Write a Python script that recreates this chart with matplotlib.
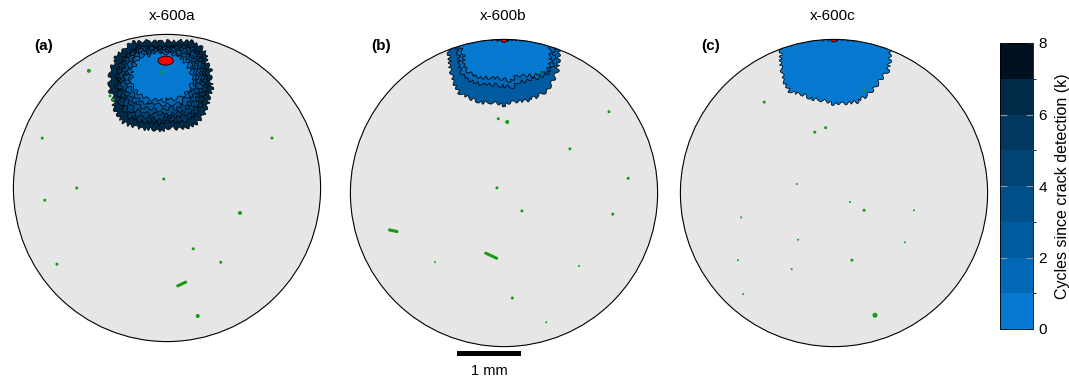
import numpy as np
import matplotlib
matplotlib.use('Agg')
import matplotlib.pyplot as plt
from matplotlib.colors import ListedColormap, BoundaryNorm
from matplotlib.patches import Circle, Polygon, Ellipse, Rectangle
import matplotlib.cm as cm

plt.rcParams['font.family'] = ['Liberation Sans', 'DejaVu Sans']

# specimen radius (mm)
radio = 2.4
titulos = ['x-600a', 'x-600b', 'x-600c']
etiquetas = ['(a)', '(b)', '(c)']

# bins of cycles since crack detection (k)
limites_ciclos = [0, 1, 2, 3, 4, 5, 6, 7, 8]
colores_ciclos = ['#0479cf', '#0068b5', '#005aa0', '#004f88',
                  '#004476', '#00385f', '#002a48', '#00101f']
ticks_barra = [0, 2, 4, 6, 8]

# x-600a: crack fronts, radius (mm) every 10 deg around the crack centre
centro_frentes_a = (-0.11, 1.69)
angulos_a = list(range(0, 360, 10))
frentes_a = [
    [0.50, 0.51, 0.49, 0.48, 0.47, 0.48, 0.45, 0.44, 0.42, 0.42, 0.43, 0.41, 0.44, 0.46, 0.47, 0.45, 0.46, 0.44,
     0.45, 0.44, 0.42, 0.40, 0.38, 0.37, 0.34, 0.33, 0.31, 0.32, 0.33, 0.32, 0.36, 0.39, 0.42, 0.45, 0.47, 0.49],
    [0.54, 0.56, 0.52, 0.55, 0.53, 0.51, 0.48, 0.46, 0.45, 0.44, 0.45, 0.45, 0.47, 0.51, 0.50, 0.48, 0.50, 0.50,
     0.48, 0.50, 0.46, 0.47, 0.44, 0.46, 0.41, 0.41, 0.37, 0.40, 0.39, 0.41, 0.43, 0.48, 0.48, 0.52, 0.51, 0.55],
    [0.59, 0.60, 0.57, 0.59, 0.59, 0.56, 0.52, 0.48, 0.46, 0.46, 0.47, 0.48, 0.50, 0.54, 0.52, 0.55, 0.53, 0.54,
     0.55, 0.53, 0.53, 0.52, 0.53, 0.52, 0.51, 0.47, 0.46, 0.48, 0.47, 0.46, 0.53, 0.53, 0.57, 0.56, 0.58, 0.58],
    [0.63, 0.66, 0.61, 0.64, 0.62, 0.62, 0.55, 0.51, 0.49, 0.47, 0.50, 0.49, 0.55, 0.56, 0.58, 0.57, 0.59, 0.57,
     0.58, 0.61, 0.57, 0.60, 0.59, 0.62, 0.56, 0.56, 0.54, 0.53, 0.55, 0.56, 0.58, 0.63, 0.62, 0.65, 0.62, 0.66],
    [0.68, 0.70, 0.68, 0.69, 0.70, 0.65, 0.59, 0.53, 0.51, 0.49, 0.52, 0.52, 0.57, 0.61, 0.59, 0.64, 0.61, 0.64,
     0.62, 0.65, 0.64, 0.65, 0.68, 0.67, 0.66, 0.62, 0.61, 0.63, 0.58, 0.63, 0.66, 0.70, 0.69, 0.71, 0.67, 0.70],
    [0.72, 0.74, 0.71, 0.75, 0.74, 0.70, 0.61, 0.55, 0.53, 0.51, 0.53, 0.55, 0.60, 0.64, 0.63, 0.67, 0.66, 0.68,
     0.67, 0.70, 0.68, 0.72, 0.74, 0.76, 0.73, 0.70, 0.67, 0.69, 0.66, 0.70, 0.75, 0.77, 0.77, 0.76, 0.73, 0.75],
    [0.80, 0.81, 0.78, 0.83, 0.83, 0.78, 0.70, 0.64, 0.61, 0.59, 0.61, 0.64, 0.69, 0.75, 0.73, 0.78, 0.77, 0.80,
     0.78, 0.81, 0.78, 0.84, 0.86, 0.88, 0.84, 0.81, 0.78, 0.80, 0.77, 0.81, 0.86, 0.89, 0.88, 0.86, 0.81, 0.83],
]
bins_a = [0, 1, 2, 3, 4, 5, 6]

# x-600b / x-600c: fronts from the surface origin, radius (mm) every 10 deg from 180 to 360
angulos_bc = list(range(180, 361, 10))
frentes_b = [
    [0.78, 0.69, 0.67, 0.73, 0.77, 0.73, 0.69, 0.64, 0.61, 0.62, 0.66, 0.59, 0.66, 0.73, 0.81, 0.83, 0.78, 0.73, 0.78],
    [0.84, 0.75, 0.75, 0.81, 0.86, 0.83, 0.80, 0.75, 0.72, 0.73, 0.76, 0.71, 0.74, 0.79, 0.86, 0.88, 0.83, 0.78, 0.83],
    [0.97, 0.88, 0.91, 0.97, 1.03, 1.09, 1.06, 1.05, 1.00, 1.03, 0.98, 1.02, 1.03, 1.05, 1.00, 0.97, 0.91, 0.88, 0.94],
]
bins_b = [0, 1, 2]
frentes_c = [
    [0.97, 0.84, 0.89, 0.95, 1.02, 1.07, 0.99, 0.99, 0.97, 1.01, 1.01, 1.04, 1.02, 0.99, 0.96, 0.98, 0.93, 0.89, 0.94],
]
bins_c = [0]

# initial crack (red): centre x, y, width, height (mm)
grieta_a = (-0.02, 1.99, 0.24, 0.14)
grieta_b = (0.0, 2.39, 0.09, 0.07)
grieta_c = (0.0, 2.39, 0.08, 0.06)

# inclusions (green): x, y (mm), diameter (px)
incl_a_x = [-1.22, -0.89, -0.84, -1.95, 1.64, -0.05, -1.41, -1.91, 1.14, 0.41, -1.72, 0.84, 0.48, -0.08]
incl_a_y = [1.83, 1.44, 1.38, 0.78, 0.78, 0.14, 0.00, -0.19, -0.39, -0.95, -1.19, -1.16, -2.00, 1.81]
incl_a_d = [4, 3, 3, 3, 3, 3, 3, 3, 4, 3, 3, 3, 4, 3]
incl_b_x = [-0.09, 0.05, 1.64, 1.03, -0.11, 1.94, 0.28, 1.70, -1.08, 1.17, 0.13, 0.66, 0.02, 0.56]
incl_b_y = [1.16, 1.11, 1.27, 0.69, 0.08, 0.23, -0.28, -0.33, -1.08, -1.14, -1.64, -2.02, 2.07, 1.88]
incl_b_d = [3, 4, 3, 3, 3, 3, 3, 3, 2, 2, 3, 2, 2, 2]
incl_c_x = [-1.09, -0.30, -0.13, -0.58, 0.25, 0.47, 1.25, -1.45, 1.11, -0.56, -1.50, -0.66, 0.28, -1.42, 0.64, 0.47]
incl_c_y = [1.42, 0.95, 1.02, 0.14, -0.14, -0.27, -0.27, -0.38, -0.77, -0.73, -1.05, -1.19, -1.05, -1.58, -1.91, 1.61]
incl_c_d = [3, 3, 3, 2, 2, 3, 2, 2, 2, 2, 2, 2, 3, 2, 5, 3]

# elongated inclusions: x, y, length (mm), angle (deg)
alargadas_a = [(0.23, -1.50, 0.14, 25)]
alargadas_b = [(-1.73, -0.59, 0.12, -12), (-0.20, -0.98, 0.19, -25)]
alargadas_c = []

# panel centres on the canvas (px) and scale
centros_px = [(167, 188), (504, 193), (834, 193)]
titulo_x_px = [172, 503, 833]
px_por_mm = 64
ancho_px, alto_px = 1069, 379


def dibuja_panel(ax, frentes, bins, centro_f, angulos, grieta, ix, iy, idiam, alargadas):
    circulo = Circle((0, 0), radio, facecolor='#e6e6e6', edgecolor='none', zorder=1)
    ax.add_patch(circulo)

    ang = np.deg2rad(angulos)
    for frente, b in reversed(list(zip(frentes, bins))):
        r = np.array(frente)
        xs = centro_f[0] + r * np.cos(ang)
        ys = centro_f[1] + r * np.sin(ang)
        p = Polygon(np.column_stack([xs, ys]), closed=True, facecolor=colores_ciclos[b],
                    edgecolor='black', linewidth=0.55, zorder=2)
        # rough fracture-front look
        p.set_sketch_params(scale=1.8, length=7, randomness=3)
        ax.add_patch(p)
        p.set_clip_path(circulo)

    e = Ellipse((grieta[0], grieta[1]), grieta[2], grieta[3], facecolor='#ff0000',
                edgecolor='black', linewidth=0.6, zorder=3)
    ax.add_patch(e)
    e.set_clip_path(circulo)

    ax.scatter(ix, iy, s=(np.array(idiam) * 0.72) ** 2, color='#169c16', edgecolors='none', zorder=4)
    for x, y, largo, a in alargadas:
        dx = 0.5 * largo * np.cos(np.deg2rad(a))
        dy = 0.5 * largo * np.sin(np.deg2rad(a))
        ax.plot([x - dx, x + dx], [y - dy, y + dy], color='#169c16', linewidth=2.2,
                solid_capstyle='round', zorder=4)

    ax.add_patch(Circle((0, 0), radio, facecolor='none', edgecolor='black', linewidth=0.8, zorder=5))


fig = plt.figure(figsize=(ancho_px / 100, alto_px / 100), dpi=100)

paneles = [
    (frentes_a, bins_a, centro_frentes_a, angulos_a, grieta_a, incl_a_x, incl_a_y, incl_a_d, alargadas_a),
    (frentes_b, bins_b, (0, radio), angulos_bc, grieta_b, incl_b_x, incl_b_y, incl_b_d, alargadas_b),
    (frentes_c, bins_c, (0, radio), angulos_bc, grieta_c, incl_c_x, incl_c_y, incl_c_d, alargadas_c),
]

medio_ancho = 160
for i, datos in enumerate(paneles):
    cx, cy = centros_px[i]
    ax = fig.add_axes([(cx - medio_ancho) / ancho_px, 0, 2 * medio_ancho / ancho_px, 1])
    ax.set_xlim(-medio_ancho / px_por_mm, medio_ancho / px_por_mm)
    ax.set_ylim(-(alto_px - cy) / px_por_mm, cy / px_por_mm)
    ax.axis('off')
    dibuja_panel(ax, *datos)
    ax.text((titulo_x_px[i] - cx) / px_por_mm, (cy - 16) / px_por_mm, titulos[i],
            ha='center', va='center', fontsize=11)
    ax.text(-1.92, (cy - 46) / px_por_mm, etiquetas[i], ha='center', va='center',
            fontsize=11, fontweight='bold')
    if i == 1:
        # scale bar, 1 mm
        x0 = (457 - cx) / px_por_mm
        ax.add_patch(Rectangle((x0, (cy - 356) / px_por_mm), 1.0, 5 / px_por_mm,
                               facecolor='black', edgecolor='none'))
        ax.text(x0 + 0.5, (cy - 371) / px_por_mm, '1 mm', ha='center', va='center', fontsize=10.5)

# colour bar
cax = fig.add_axes([1000 / ancho_px, (alto_px - 329) / alto_px, 33 / ancho_px, 286 / alto_px])
cmap = ListedColormap(colores_ciclos)
norm = BoundaryNorm(limites_ciclos, cmap.N)
cb = fig.colorbar(cm.ScalarMappable(norm=norm, cmap=cmap), cax=cax, ticks=ticks_barra)
cb.outline.set_linewidth(0.6)
cb.ax.tick_params(direction='in', length=5, width=0.8, color='0.6', left=True, right=True,
                  labelsize=11, pad=4)
cb.set_label('Cycles since crack detection (k)', fontsize=11.5, labelpad=6)

fig.savefig('out.png', dpi=100)
